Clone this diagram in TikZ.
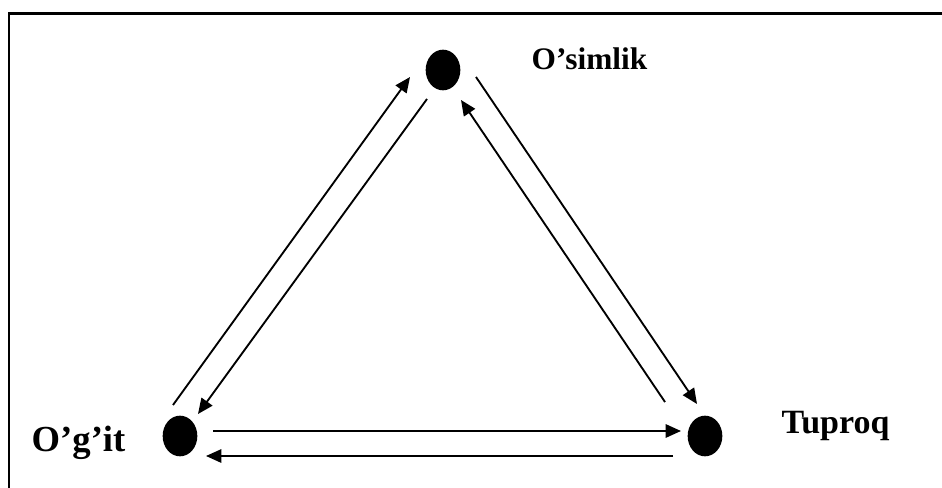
\documentclass[tikz,border=0pt]{standalone}
\usepackage{fontspec}
\setmainfont{Liberation Serif}
\usetikzlibrary{arrows.meta, shapes.geometric, calc}
\definecolor{lineDark}{HTML}{000000}

\begin{document}
\begin{tikzpicture}[x=0.75pt, y=-0.75pt,
    dot/.style={ellipse, fill=lineDark, inner sep=0pt, minimum width=26pt, minimum height=30.5pt},
    flow/.style={-{Triangle[length=11.5pt, width=10pt]}, line width=1.4pt, lineDark},
    lbl/.style={anchor=base west, text=lineDark, font=\bfseries}]
    \useasboundingbox (0,0) rectangle (942,488);
    \draw[line width=1.6pt, lineDark] (9,488) -- (9,13.5) -- (942,13.5);
    % three points of the cycle
    \node[dot] (osimlik) at (443,70) {};
    \node[dot] (ogit) at (180,436) {};
    \node[dot] (tuproq) at (705,436) {};
    \node[lbl, font=\bfseries\fontsize{23.5}{28}\selectfont] (osimlikL) at (527,70) {O’simlik};
    \node[lbl, font=\bfseries\fontsize{27.5}{32}\selectfont] (ogitL) at (27,451) {O’g’it};
    \node[lbl, font=\bfseries\fontsize{25.5}{30}\selectfont] (tuproqL) at (777,433) {Tuproq};
    % paired arrows
    \draw[flow] ($(ogit)+(-7,-31)$) -- ($(osimlik)+(-33,7)$);
    \draw[flow] ($(osimlik)+(-16,29)$) -- ($(ogit)+(18,-22)$);
    \draw[flow] ($(osimlik)+(33,7)$) -- ($(tuproq)+(-8,-32)$);
    \draw[flow] ($(tuproq)+(-40,-34)$) -- ($(osimlik)+(18,30)$);
    \draw[flow] ($(ogit)+(33,-5)$) -- ($(tuproq)+(-24,-5)$);
    \draw[flow] ($(tuproq)+(-32,20)$) -- ($(ogit)+(26,20)$);
  \end{tikzpicture}
\end{document}
